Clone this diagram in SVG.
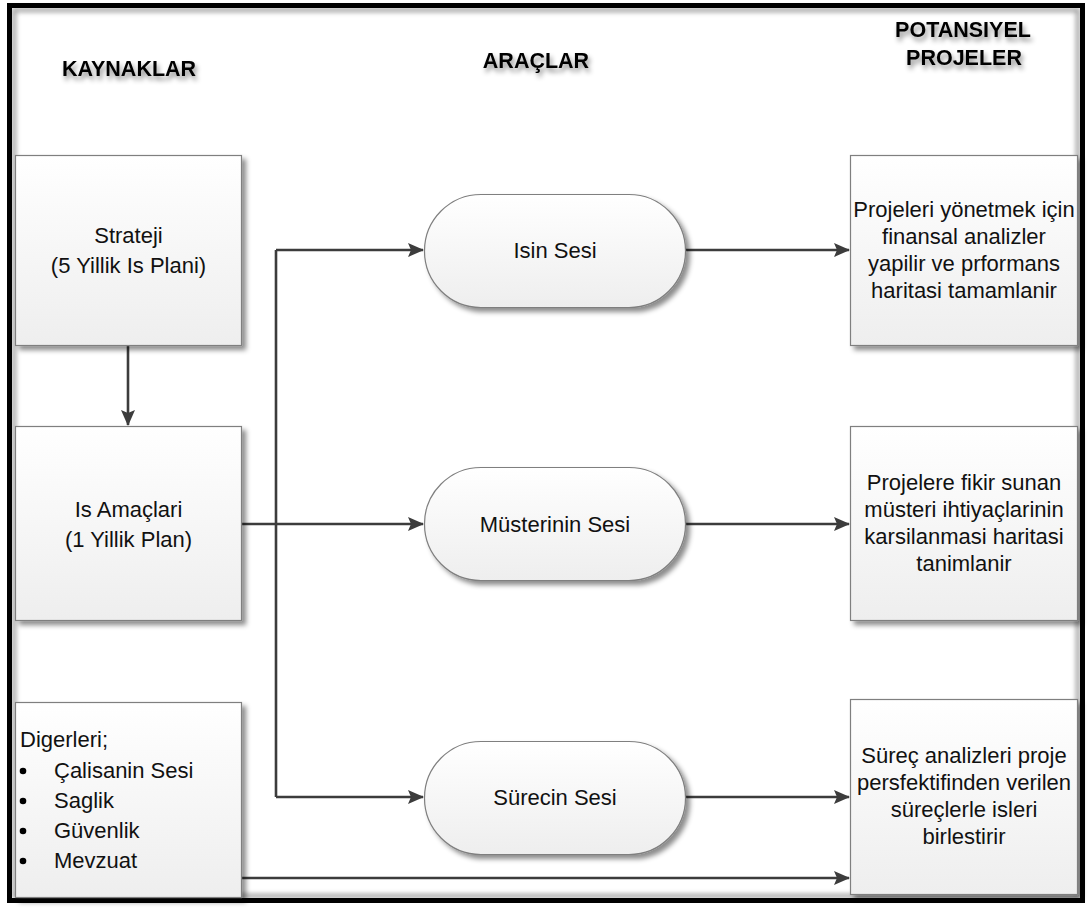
<svg xmlns="http://www.w3.org/2000/svg" width="1088" height="911" viewBox="0 0 1088 911">
  <defs>
    <linearGradient id="boxFill" x1="0" y1="0" x2="0" y2="1">
      <stop offset="0" stop-color="#ffffff"/>
      <stop offset="1" stop-color="#eeeeee"/>
    </linearGradient>
    <filter id="shadow" x="-10%" y="-10%" width="125%" height="130%">
      <feDropShadow dx="4" dy="4" stdDeviation="2.5" flood-color="#000" flood-opacity="0.45"/>
    </filter>
    <filter id="textShadow" x="-10%" y="-30%" width="125%" height="180%">
      <feDropShadow dx="2" dy="4" stdDeviation="2.5" flood-color="#000" flood-opacity="0.45"/>
    </filter>
    <filter id="frameGlow" x="-5%" y="-5%" width="110%" height="110%">
      <feGaussianBlur stdDeviation="2.5"/>
    </filter>
    <marker id="arrow" markerWidth="16" markerHeight="14" refX="15" refY="7" orient="auto" markerUnits="userSpaceOnUse">
      <path d="M0,0 L16,7 L0,14 L3,7 Z" fill="#3c3c3c"/>
    </marker>
    <style>
      .box { fill: url(#boxFill); stroke: #7f7f7f; stroke-width: 1.2; filter: url(#shadow); }
      .txt { font-family: "Liberation Sans", Arial, sans-serif; font-size: 22px; fill: #111; }
      .mid { text-anchor: middle; }
      .head { font-family: "Liberation Sans", Arial, sans-serif; font-size: 21.5px; font-weight: bold; fill: #000; text-anchor: middle; filter: url(#textShadow); }
      .conn { fill: none; stroke: #3c3c3c; stroke-width: 2.6; }
    </style>
  </defs>

  <rect width="1088" height="911" fill="#ffffff"/>

  <!-- outer frame with soft inner shade -->
  <g id="frame">
    <rect x="14" y="10" width="1064" height="886" fill="none" stroke="#9a9a9a" stroke-width="4" filter="url(#frameGlow)"/>
    <rect x="9.5" y="5.5" width="1073" height="895" fill="none" stroke="#000" stroke-width="5"/>
  </g>

  <!-- column headers -->
  <g id="headers">
    <text class="head" x="129" y="76">KAYNAKLAR</text>
    <text class="head" x="536" y="68">ARAÇLAR</text>
    <text class="head" x="963" y="37">POTANSIYEL</text>
    <text class="head" x="964" y="65">PROJELER</text>
  </g>

  <!-- connectors -->
  <g id="connectors">
    <path class="conn" d="M128,345 V425" marker-end="url(#arrow)"/>
    <path class="conn" d="M241,524 H423" marker-end="url(#arrow)"/>
    <path class="conn" d="M276,250 V797" stroke-width="2"/>
    <path class="conn" d="M276,250 H423" marker-end="url(#arrow)"/>
    <path class="conn" d="M276,797 H423" marker-end="url(#arrow)"/>
    <path class="conn" d="M685,250 H849" marker-end="url(#arrow)"/>
    <path class="conn" d="M685,524 H849" marker-end="url(#arrow)"/>
    <path class="conn" d="M685,797 H849" marker-end="url(#arrow)"/>
    <path class="conn" d="M241,878 H849" marker-end="url(#arrow)"/>
  </g>

  <!-- sources -->
  <g id="strateji">
    <rect class="box" x="15.5" y="155.5" width="226" height="190"/>
    <text class="txt mid" x="128.5" y="243">Strateji</text>
    <text class="txt mid" x="128.5" y="273">(5 Yillik Is Plani)</text>
  </g>
  <g id="is-amaclari">
    <rect class="box" x="15.5" y="426.5" width="226" height="194"/>
    <text class="txt mid" x="128.5" y="517">Is Amaçlari</text>
    <text class="txt mid" x="128.5" y="547">(1 Yillik Plan)</text>
  </g>
  <g id="digerleri">
    <rect class="box" x="15.5" y="702.5" width="226" height="195"/>
    <text class="txt" x="20" y="747">Digerleri;</text>
    <g fill="#000">
      <circle cx="23" cy="771" r="3.3"/>
      <circle cx="23" cy="801" r="3.3"/>
      <circle cx="23" cy="831" r="3.3"/>
      <circle cx="23" cy="861" r="3.3"/>
    </g>
    <text class="txt" x="54" y="778">Çalisanin Sesi</text>
    <text class="txt" x="54" y="808">Saglik</text>
    <text class="txt" x="54" y="838">Güvenlik</text>
    <text class="txt" x="54" y="868">Mevzuat</text>
  </g>

  <!-- tools -->
  <g id="isin-sesi">
    <rect class="box" x="424.5" y="194.5" width="261" height="113" rx="56.5" ry="56.5"/>
    <text class="txt mid" x="555" y="258">Isin Sesi</text>
  </g>
  <g id="musterinin-sesi">
    <rect class="box" x="424.5" y="467.5" width="261" height="113" rx="56.5" ry="56.5"/>
    <text class="txt mid" x="555" y="532">Müsterinin Sesi</text>
  </g>
  <g id="surecin-sesi">
    <rect class="box" x="424.5" y="741.5" width="261" height="113" rx="56.5" ry="56.5"/>
    <text class="txt mid" x="555" y="805">Sürecin Sesi</text>
  </g>

  <!-- potential projects -->
  <g id="proje-1">
    <rect class="box" x="850.5" y="155.5" width="227" height="190"/>
    <text class="txt mid" x="964" y="217">Projeleri yönetmek için</text>
    <text class="txt mid" x="964" y="244">finansal analizler</text>
    <text class="txt mid" x="964" y="271">yapilir ve prformans</text>
    <text class="txt mid" x="964" y="298">haritasi tamamlanir</text>
  </g>
  <g id="proje-2">
    <rect class="box" x="850.5" y="426.5" width="227" height="194"/>
    <text class="txt mid" x="964" y="490">Projelere fikir sunan</text>
    <text class="txt mid" x="964" y="517">müsteri ihtiyaçlarinin</text>
    <text class="txt mid" x="964" y="544">karsilanmasi haritasi</text>
    <text class="txt mid" x="964" y="571">tanimlanir</text>
  </g>
  <g id="proje-3">
    <rect class="box" x="850.5" y="699.5" width="227" height="195"/>
    <text class="txt mid" x="964" y="763">Süreç analizleri proje</text>
    <text class="txt mid" x="964" y="790">persfektifinden verilen</text>
    <text class="txt mid" x="964" y="817">süreçlerle isleri</text>
    <text class="txt mid" x="964" y="844">birlestirir</text>
  </g>
</svg>
